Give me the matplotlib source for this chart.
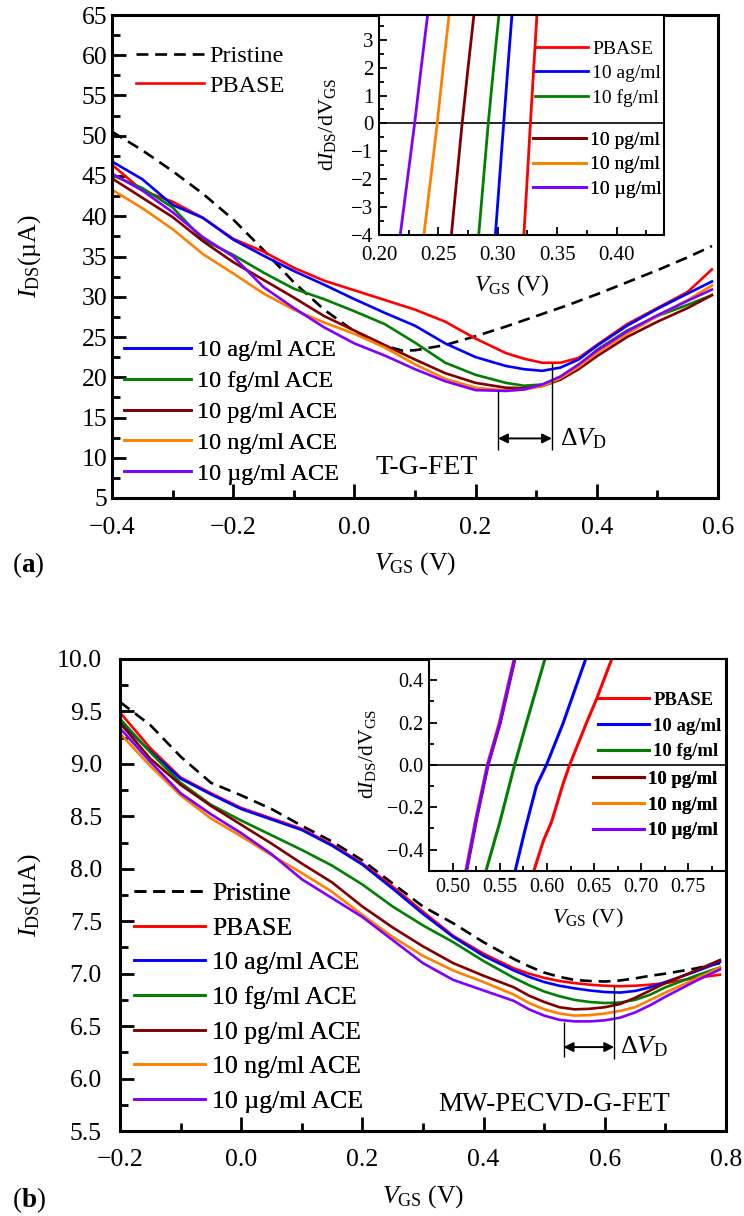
import matplotlib
matplotlib.use('Agg')
import matplotlib.pyplot as plt
from matplotlib.ticker import MultipleLocator

plt.rcParams['font.family'] = ['Liberation Serif', 'DejaVu Serif']
plt.rcParams['mathtext.fontset'] = 'custom'
plt.rcParams['mathtext.rm'] = 'Liberation Serif'
plt.rcParams['mathtext.it'] = 'Liberation Serif:italic'
plt.rcParams['mathtext.bf'] = 'Liberation Serif:bold'

# ---------------- data: panel (a) T-G-FET ----------------
a_v = [-0.40, -0.35, -0.30, -0.25, -0.20, -0.15, -0.10, -0.05, 0.00, 0.05, 0.10, 0.15,
       0.20, 0.25, 0.28, 0.31, 0.34, 0.37, 0.40, 0.45, 0.50, 0.55, 0.59]
a_v_pristine = [-0.40, -0.35, -0.30, -0.25, -0.20, -0.15, -0.10, -0.05, 0.00, 0.05, 0.08, 0.10,
                0.15, 0.20, 0.25, 0.30, 0.35, 0.40, 0.45, 0.50, 0.55, 0.59]
a_pristine = [50.5, 48.2, 45.6, 42.8, 39.6, 35.8, 31.8, 28.4, 25.7, 23.9, 23.3, 23.35,
              24.0, 25.1, 26.3, 27.6, 28.9, 30.3, 31.8, 33.3, 34.9, 36.3]
a_pbase = [46.4, 43.2, 41.8, 39.8, 37.2, 35.6, 33.6, 32.0, 30.8, 29.6, 28.4, 26.9,
           24.8, 23.0, 22.3, 21.8, 21.8, 22.4, 24.0, 26.6, 28.6, 30.6, 33.4]
a_ag = [46.8, 44.6, 41.4, 39.8, 37.1, 35.1, 33.2, 31.5, 29.7, 28.0, 26.4, 24.2,
        22.5, 21.4, 21.0, 20.8, 21.2, 22.2, 23.9, 26.4, 28.5, 30.4, 31.9]
a_fg = [45.1, 43.5, 41.1, 37.1, 35.2, 33.0, 31.0, 29.7, 28.2, 26.6, 24.3, 21.8,
        20.3, 19.3, 18.95, 19.1, 19.8, 21.4, 23.4, 25.8, 27.6, 29.0, 30.2]
a_pg = [44.7, 42.3, 39.9, 36.9, 34.3, 32.1, 29.9, 27.6, 25.8, 24.0, 22.2, 20.5,
        19.3, 18.7, 18.65, 18.9, 19.7, 21.0, 22.6, 25.0, 26.9, 28.6, 30.2]
a_ng = [43.3, 41.0, 38.4, 35.3, 32.9, 30.4, 28.4, 26.8, 25.4, 23.7, 21.6, 19.8,
        18.7, 18.35, 18.45, 18.9, 19.9, 21.3, 23.0, 25.4, 27.6, 29.6, 31.4]
a_ug = [45.3, 43.2, 40.5, 37.4, 35.0, 31.2, 28.6, 26.2, 24.2, 22.7, 21.0, 19.5,
        18.4, 18.3, 18.5, 19.1, 20.1, 21.6, 23.3, 25.7, 27.7, 29.5, 30.9]

# inset (a): derivative levels and the gate voltage where each curve reaches them
a_d_levels = [-4.3, -2.0, 0.0, 2.0, 4.2]
a_d_pbase = [0.3216, 0.3248, 0.3275, 0.3303, 0.3334]
a_d_ag = [0.2975, 0.3015, 0.3050, 0.3085, 0.3125]
a_d_fg = [0.2834, 0.2880, 0.2920, 0.2965, 0.3017]
a_d_pg = [0.2603, 0.2655, 0.2700, 0.2750, 0.2807]
a_d_ng = [0.2370, 0.2435, 0.2490, 0.2540, 0.2598]
a_d_ug = [0.2170, 0.2240, 0.2300, 0.2355, 0.2418]
a_dirac = [0.237, 0.326]           # Dirac point markers (V)
a_dirac_top = [18.3, 21.8]

# ---------------- data: panel (b) MW-PECVD-G-FET ----------------
b_v = [-0.20, -0.15, -0.10, -0.05, 0.00, 0.05, 0.10, 0.15, 0.20, 0.25, 0.30, 0.35,
       0.40, 0.45, 0.475, 0.50, 0.525, 0.55, 0.575, 0.60, 0.625, 0.65, 0.675, 0.70, 0.75, 0.79]
b_pristine = [9.59, 9.37, 9.07, 8.82, 8.70, 8.57, 8.41, 8.26, 8.08, 7.86, 7.64, 7.48,
              7.30, 7.14, 7.07, 7.01, 6.97, 6.94, 6.93, 6.925, 6.935, 6.955, 6.98, 7.00, 7.05, 7.10]
b_pbase = [9.49, 9.15, 8.87, 8.72, 8.58, 8.48, 8.38, 8.23, 8.05, 7.83, 7.59, 7.36,
           7.19, 7.05, 7.00, 6.96, 6.93, 6.91, 6.895, 6.885, 6.88, 6.885, 6.895, 6.91, 6.96, 6.99]
b_ag = [9.40, 9.12, 8.86, 8.71, 8.57, 8.47, 8.37, 8.22, 8.04, 7.81, 7.57, 7.35,
        7.17, 7.03, 6.97, 6.92, 6.885, 6.86, 6.84, 6.825, 6.82, 6.835, 6.87, 6.92, 7.02, 7.11]
b_fg = [9.43, 9.11, 8.82, 8.61, 8.46, 8.32, 8.18, 8.03, 7.85, 7.64, 7.46, 7.30,
        7.12, 6.96, 6.89, 6.83, 6.785, 6.75, 6.73, 6.72, 6.725, 6.75, 6.80, 6.87, 6.98, 7.06]
b_pg = [9.39, 9.05, 8.80, 8.60, 8.42, 8.24, 8.05, 7.87, 7.64, 7.44, 7.26, 7.10,
        6.98, 6.87, 6.79, 6.73, 6.68, 6.66, 6.665, 6.68, 6.71, 6.77, 6.84, 6.91, 7.03, 7.13]
b_ng = [9.29, 8.98, 8.70, 8.48, 8.31, 8.13, 7.96, 7.78, 7.56, 7.35, 7.17, 7.03,
        6.92, 6.80, 6.72, 6.66, 6.62, 6.60, 6.605, 6.62, 6.645, 6.68, 6.75, 6.82, 6.95, 7.06]
b_ug = [9.34, 9.02, 8.72, 8.52, 8.34, 8.14, 7.90, 7.72, 7.54, 7.32, 7.10, 6.94,
        6.84, 6.74, 6.66, 6.60, 6.56, 6.545, 6.545, 6.555, 6.58, 6.63, 6.70, 6.78, 6.93, 7.04]

# inset (b)
b_d_pbase_lv = [-0.55, -0.36, -0.27, -0.09, 0.0, 0.20, 0.31, 0.55]
b_d_pbase = [0.5825, 0.5960, 0.6047, 0.6170, 0.6240, 0.6420, 0.6525, 0.6730]
b_d_ag_lv = [-0.55, -0.30, -0.10, 0.0, 0.196, 0.55]
b_d_ag = [0.5635, 0.5770, 0.5887, 0.5994, 0.6170, 0.6450]
b_d_fg_lv = [-0.55, -0.274, 0.0, 0.196, 0.55]
b_d_fg = [0.5320, 0.5497, 0.5656, 0.5780, 0.6010]
b_d_lv = [-0.55, -0.25, 0.0, 0.196, 0.55]
b_d_pg = [0.5125, 0.5255, 0.5375, 0.5502, 0.5685]
b_d_ng = [0.5115, 0.5245, 0.5365, 0.5490, 0.5675]
b_d_ug = [0.5120, 0.5250, 0.5370, 0.5497, 0.5680]
b_dirac = [0.532, 0.6155]
b_dirac_top = [6.54, 6.88]

labels_main = ['Pristine', 'PBASE', '10 ag/ml ACE', '10 fg/ml ACE', '10 pg/ml ACE',
               '10 ng/ml ACE', '10 µg/ml ACE']
labels_inset = ['PBASE', '10 ag/ml', '10 fg/ml', '10 pg/ml', '10 ng/ml', '10 µg/ml']
colors = ['black', '#FF0000', '#0000FF', '#008000', '#800000', '#FF8000', '#8000FF']

W, H = 744, 1216
fig = plt.figure(figsize=(W / 100, H / 100), dpi=100)


def box(l, t, r, b):
    return [l / W, 1 - b / H, (r - l) / W, (b - t) / H]


def style_main(ax, xmaj, xmin, ymaj, ymin, xpad, ypad):
    for s in ax.spines.values():
        s.set_linewidth(2.2)
    ax.xaxis.set_major_locator(MultipleLocator(xmaj))
    ax.xaxis.set_minor_locator(MultipleLocator(xmin))
    ax.yaxis.set_major_locator(MultipleLocator(ymaj))
    ax.yaxis.set_minor_locator(MultipleLocator(ymin))
    ax.tick_params(which='both', direction='in', top=False, right=False, width=2.0)
    ax.tick_params(which='major', length=10, labelsize=18.5)
    ax.tick_params(which='minor', length=5.5)
    ax.tick_params(axis='x', which='major', pad=xpad)
    ax.tick_params(axis='y', which='major', pad=ypad)


def style_inset(ax, xmaj, xmin, ymaj, ymin, fs, xpad, ypad):
    for s in ax.spines.values():
        s.set_linewidth(1.5)
    ax.xaxis.set_major_locator(MultipleLocator(xmaj))
    ax.xaxis.set_minor_locator(MultipleLocator(xmin))
    ax.yaxis.set_major_locator(MultipleLocator(ymaj))
    ax.yaxis.set_minor_locator(MultipleLocator(ymin))
    ax.tick_params(which='both', direction='in', top=False, right=False, width=1.3)
    ax.tick_params(which='major', length=6, labelsize=fs)
    ax.tick_params(which='minor', length=3.5)
    ax.tick_params(axis='x', which='major', pad=xpad)
    ax.tick_params(axis='y', which='major', pad=ypad)


def legend_at(ax, handles, labels, x_px, yc_px, fs, hl, htp, ls, weight='normal'):
    leg = ax.legend(handles, labels, loc='center left',
                    bbox_to_anchor=(x_px / W, 1 - yc_px / H), bbox_transform=fig.transFigure,
                    frameon=False, borderpad=0, borderaxespad=0, handlelength=hl,
                    handletextpad=htp, labelspacing=ls, prop={'size': fs, 'weight': weight})
    ax.add_artist(leg)
    return leg


LW = 1.9
DASH = (0, (4.5, 2.6))

# ================= panel (a) =================
axa = fig.add_axes(box(112, 15, 718, 498))
la = [axa.plot(a_v_pristine, a_pristine, color=colors[0], lw=LW, linestyle=DASH)[0]]
for ys, c in zip([a_pbase, a_ag, a_fg, a_pg, a_ng, a_ug], colors[1:]):
    la.append(axa.plot(a_v, ys, color=c, lw=LW)[0])
axa.set_xlim(-0.4, 0.6)
axa.set_ylim(5, 65)
style_main(axa, 0.2, 0.1, 5, 2.5, 14, 3.5)
axa.set_xlabel(r'$V_{\mathrm{GS}}$ (V)', fontsize=18.5, va='center')
axa.set_ylabel(r'$I_{\mathrm{DS}}$(µA)', fontsize=18.5, va='center')
axa.xaxis.set_label_coords(0.5, (498 - 564) / 483)
axa.yaxis.set_label_coords((30 - 112) / 606, 0.5)

legend_at(axa, la[:2], labels_main[:2], 136, 71, 17.5, 2.8, 0.22, 0.3)
legend_at(axa, la[2:], labels_main[2:], 124, 412, 17.5, 2.75, 0.25, 0.36)

axa.vlines(a_dirac, [11.0, 11.0], a_dirac_top, color='black', lw=1.0)
axa.annotate('', xy=(a_dirac[0], 12.4), xytext=(a_dirac[1], 12.4),
             arrowprops=dict(arrowstyle='<|-|>', color='black', lw=1.4,
                             shrinkA=0, shrinkB=0, mutation_scale=14))
axa.text(a_dirac[1] + 0.013, 12.4, r'$\Delta V_{\mathrm{D}}$', fontsize=18.5, va='center', ha='left')
axa.text(0.12, 8.85, 'T-G-FET', fontsize=20, ha='center', va='center')

# inset (a)
ia = fig.add_axes(box(379, 15, 664, 234.5))
ia.set_zorder(5)
ia.axhline(0, color='black', lw=1.2)
lia = []
for xs, c in zip([a_d_pbase, a_d_ag, a_d_fg, a_d_pg, a_d_ng, a_d_ug], colors[1:]):
    lia.append(ia.plot(xs, a_d_levels, color=c, lw=2.0)[0])
ia.set_xlim(0.20, 0.44)
ia.set_ylim(-4, 3.9)
style_inset(ia, 0.05, 0.025, 1, 0.5, 15, 8, 4)
ia.set_xlabel(r'$V_{\mathrm{GS}}$ (V)', fontsize=17, va='center')
ia.set_ylabel(r'd$I_{\mathrm{DS}}$/d$\mathrm{V}_{\mathrm{GS}}$', fontsize=16, va='center')
ia.xaxis.set_label_coords(0.467, (234.5 - 285) / 219.5)
ia.yaxis.set_label_coords((327 - 379) / 285, 0.5)
legend_at(ia, lia[:3], labels_inset[:3], 535, 73.5, 14, 2.7, 0.25, 0.35)
legend_at(ia, lia[3:], labels_inset[3:], 533, 164.5, 14, 2.7, 0.25, 0.35)

# ================= panel (b) =================
axb = fig.add_axes(box(120, 659, 726, 1131))
lb = [axb.plot(b_v, b_pristine, color=colors[0], lw=LW, linestyle=DASH)[0]]
for ys, c in zip([b_pbase, b_ag, b_fg, b_pg, b_ng, b_ug], colors[1:]):
    lb.append(axb.plot(b_v, ys, color=c, lw=LW)[0])
axb.set_xlim(-0.2, 0.8)
axb.set_ylim(5.5, 10.0)
style_main(axb, 0.2, 0.1, 0.5, 0.25, 13, 13)
axb.set_xlabel(r'$V_{\mathrm{GS}}$ (V)', fontsize=18.5, va='center')
axb.set_ylabel(r'$I_{\mathrm{DS}}$(µA)', fontsize=18.5, va='center')
axb.xaxis.set_label_coords(0.5, (1131 - 1197) / 472)
axb.yaxis.set_label_coords((30 - 120) / 606, 0.5)

legend_at(axb, lb, labels_main, 134, 997.5, 18.5, 2.75, 0.3, 0.45)

axb.vlines(b_dirac, [6.21, 6.19], b_dirac_top, color='black', lw=1.0)
axb.annotate('', xy=(b_dirac[0], 6.30), xytext=(b_dirac[1], 6.30),
             arrowprops=dict(arrowstyle='<|-|>', color='black', lw=1.4,
                             shrinkA=0, shrinkB=0, mutation_scale=14))
axb.text(b_dirac[1] + 0.01, 6.30, r'$\Delta V_{\mathrm{D}}$', fontsize=19, va='center', ha='left')
axb.text(0.516, 5.755, 'MW-PECVD-G-FET', fontsize=19.5, ha='center', va='center')

# inset (b)
ib = fig.add_axes(box(429.3, 659, 726, 870.7))
ib.set_zorder(5)
ib.axhline(0, color='black', lw=1.2)
lib = []
for xs, lv, c in zip([b_d_pbase, b_d_ag, b_d_fg, b_d_pg, b_d_ng, b_d_ug],
                     [b_d_pbase_lv, b_d_ag_lv, b_d_fg_lv, b_d_lv, b_d_lv, b_d_lv], colors[1:]):
    lib.append(ib.plot(xs, lv, color=c, lw=2.2)[0])
ib.set_xlim(0.475, 0.79)
ib.set_ylim(-0.5, 0.5)
style_inset(ib, 0.05, 0.025, 0.2, 0.1, 14.5, 5, 4)
ib.set_xlabel(r'$V_{\mathrm{GS}}$ (V)', fontsize=16, va='center')
ib.set_ylabel(r'd$I_{\mathrm{DS}}$/d$\mathrm{V}_{\mathrm{GS}}$', fontsize=15.5, va='center')
ib.xaxis.set_label_coords(0.535, (870.7 - 918) / 211.7)
ib.yaxis.set_label_coords((368 - 429.3) / 296.7, 0.55)
legend_at(ib, lib[:3], labels_inset[:3], 598, 726, 13.5, 2.7, 0.25, 0.45, weight='bold')
legend_at(ib, lib[3:], labels_inset[3:], 593, 805, 13.5, 2.7, 0.25, 0.45, weight='bold')

# panel labels
fig.text(12 / W, 1 - 565 / H, r'($\mathbf{a}$)', fontsize=19.5, ha='left', va='center')
fig.text(12 / W, 1 - 1200 / H, r'($\mathbf{b}$)', fontsize=19.5, ha='left', va='center')

fig.savefig('out.png', dpi=100)
